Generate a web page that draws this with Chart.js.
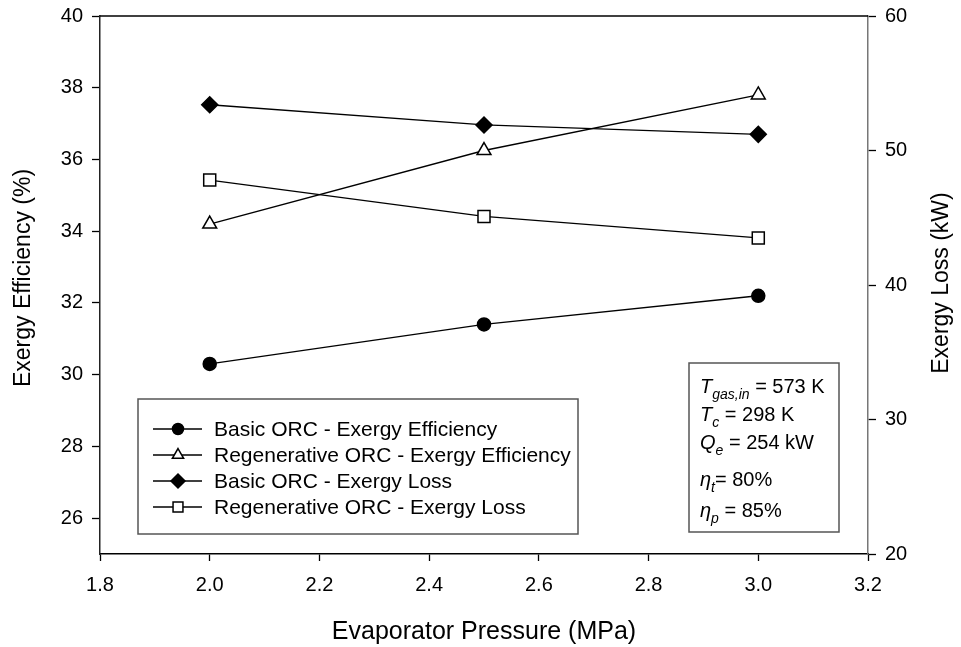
<!DOCTYPE html>
<html>
<head>
<meta charset="utf-8">
<script src="https://cdn.jsdelivr.net/npm/chart.js@4.4.1/dist/chart.umd.min.js"></script>
<style>
  html, body { margin: 0; padding: 0; background: #fff; }
  #wrap { width: 961px; height: 647px; }
</style>
</head>
<body>
<div id="wrap"><canvas id="c" width="961" height="647"></canvas></div>
<script>
// Evaporator pressure (MPa)
const pressure = [2.0, 2.5, 3.0];

// Exergy efficiency (%), left axis
const basicEfficiency = [30.3, 31.4, 32.2];
const regenEfficiency = [34.2, 36.25, 37.8];

// Exergy loss (kW), right axis
const basicLoss = [53.4, 51.9, 51.2];
const regenLoss = [47.8, 45.1, 43.5];

// Axis ticks
const xTicks = [1.8, 2.0, 2.2, 2.4, 2.6, 2.8, 3.0, 3.2];
const effTicks = [26, 28, 30, 32, 34, 36, 38, 40];
const lossTicks = [20, 30, 40, 50, 60];

const seriesNames = [
  'Basic ORC - Exergy Efficiency',
  'Regenerative ORC - Exergy Efficiency',
  'Basic ORC - Exergy Loss',
  'Regenerative ORC - Exergy Loss'
];

const FONT = 'Arial, "Liberation Sans", sans-serif';

function pts(ys) { return pressure.map((x, i) => ({ x: x, y: ys[i] })); }

function series(label, ys, axis, style, radius, fill) {
  return {
    label: label,
    data: pts(ys),
    yAxisID: axis,
    borderColor: '#000',
    borderWidth: 1.3,
    pointStyle: style,
    pointRadius: radius,
    pointHoverRadius: radius,
    pointBackgroundColor: fill,
    pointBorderColor: '#000',
    pointBorderWidth: 1.5,
    showLine: true,
    fill: false,
    tension: 0
  };
}

const datasets = [
  series(seriesNames[0], basicEfficiency, 'yEff', 'circle', 6.5, '#000'),
  series(seriesNames[1], regenEfficiency, 'yEff', 'triangle', 8, '#fff'),
  series(seriesNames[2], basicLoss, 'yLoss', 'rectRot', 8, '#000'),
  series(seriesNames[3], regenLoss, 'yLoss', 'rect', 8.5, '#fff')
];

function verticalTitle(ctx, text, x, y) {
  ctx.save();
  ctx.translate(x, y);
  ctx.rotate(-Math.PI / 2);
  ctx.fillStyle = '#000';
  ctx.font = '23px ' + FONT;
  ctx.textAlign = 'center';
  ctx.textBaseline = 'middle';
  ctx.fillText(text, 0, 0);
  ctx.restore();
}

// Frame line on top, y-axis titles, legend box and parameter box
const decorations = {
  id: 'decorations',
  afterDraw(chart) {
    const ctx = chart.ctx;
    const a = chart.chartArea;
    ctx.save();

    // top frame line
    ctx.strokeStyle = '#000';
    ctx.lineWidth = 1.5;
    ctx.beginPath();
    ctx.moveTo(a.left, a.top);
    ctx.lineTo(a.right, a.top);
    ctx.stroke();

    // y-axis titles, both reading bottom to top
    verticalTitle(ctx, 'Exergy Efficiency (%)', 24, 278);
    verticalTitle(ctx, 'Exergy Loss (kW)', 942, 283);

    // legend
    const lx = 138, ly = 399, lw = 440, lh = 135;
    ctx.fillStyle = '#fff';
    ctx.fillRect(lx, ly, lw, lh);
    ctx.strokeStyle = '#555';
    ctx.lineWidth = 1.5;
    ctx.strokeRect(lx, ly, lw, lh);
    const legendRadius = [5.5, 6.5, 7, 7];
    chart.data.datasets.forEach((ds, i) => {
      const y = 429 + i * 26;
      ctx.strokeStyle = '#000';
      ctx.lineWidth = 1.3;
      ctx.beginPath();
      ctx.moveTo(153, y);
      ctx.lineTo(202, y);
      ctx.stroke();
      ctx.fillStyle = ds.pointBackgroundColor;
      ctx.strokeStyle = '#000';
      ctx.lineWidth = 1.5;
      Chart.helpers.drawPoint(ctx, {
        pointStyle: ds.pointStyle, radius: legendRadius[i], rotation: 0, borderWidth: 1.5
      }, 178, y);
      ctx.fillStyle = '#000';
      ctx.font = '21px ' + FONT;
      ctx.textAlign = 'left';
      ctx.textBaseline = 'middle';
      ctx.fillText(ds.label, 214, y + 1);
    });

    // operating parameters
    const bx = 689, by = 363, bw = 150, bh = 169;
    ctx.fillStyle = '#fff';
    ctx.fillRect(bx, by, bw, bh);
    ctx.strokeStyle = '#555';
    ctx.lineWidth = 1.5;
    ctx.strokeRect(bx, by, bw, bh);

    ctx.fillStyle = '#000';
    ctx.textAlign = 'left';
    ctx.textBaseline = 'alphabetic';
    const rows = [
      { sym: 'T', sub: 'gas,in', rest: ' = 573 K', y: 393 },
      { sym: 'T', sub: 'c', rest: ' = 298 K', y: 421 },
      { sym: 'Q', sub: 'e', rest: ' = 254 kW', y: 449 },
      { sym: '\u03B7', sub: 't', rest: '= 80%', y: 486 },
      { sym: '\u03B7', sub: 'p', rest: ' = 85%', y: 517 }
    ];
    rows.forEach(r => {
      let x = 700;
      ctx.font = 'italic 20px ' + FONT;
      ctx.fillText(r.sym, x, r.y);
      x += ctx.measureText(r.sym).width;
      ctx.font = 'italic 14px ' + FONT;
      ctx.fillText(r.sub, x, r.y + 6);
      x += ctx.measureText(r.sub).width;
      ctx.font = '20px ' + FONT;
      ctx.fillText(r.rest, x, r.y);
    });

    ctx.restore();
  }
};

const tickFont = { family: FONT, size: 20 };

new Chart(document.getElementById('c'), {
  type: 'scatter',
  data: { datasets: datasets },
  options: {
    responsive: false,
    animation: false,
    devicePixelRatio: 1,
    layout: { padding: { top: 16, left: 0, right: 0, bottom: 0 } },
    plugins: { legend: { display: false }, tooltip: { enabled: false } },
    scales: {
      x: {
        type: 'linear',
        min: 1.8, max: 3.2,
        afterBuildTicks: s => { s.ticks = xTicks.map(v => ({ value: v })); },
        afterFit: s => { s.height = 93; s.paddingLeft = 0; s.paddingRight = 0; },
        grid: { drawOnChartArea: false, drawTicks: true, tickLength: 7, color: '#000', tickWidth: 1.3 },
        border: { display: true, color: '#000', width: 1.5 },
        ticks: { color: '#000', font: tickFont, padding: 12, maxRotation: 0,
                 callback: v => Number(v).toFixed(1) },
        title: { display: true, text: 'Evaporator Pressure (MPa)', color: '#000',
                 font: { family: FONT, size: 25, lineHeight: 1.2 }, padding: { top: 0, bottom: 0 } }
      },
      yEff: {
        type: 'linear', position: 'left',
        min: 25, max: 40,
        afterBuildTicks: s => { s.ticks = effTicks.map(v => ({ value: v })); },
        afterFit: s => { s.width = 100; s.paddingTop = 0; s.paddingBottom = 0; },
        grid: { drawOnChartArea: false, drawTicks: true, tickLength: 8, color: '#000', tickWidth: 1.3 },
        border: { display: true, color: '#222', width: 1.5 },
        ticks: { color: '#000', font: tickFont, padding: 9 }
      },
      yLoss: {
        type: 'linear', position: 'right',
        min: 20, max: 60,
        afterBuildTicks: s => { s.ticks = lossTicks.map(v => ({ value: v })); },
        afterFit: s => { s.width = 93; s.paddingTop = 0; s.paddingBottom = 0; },
        grid: { drawOnChartArea: false, drawTicks: true, tickLength: 8, color: '#000', tickWidth: 1.3 },
        border: { display: true, color: '#777', width: 1.5 },
        ticks: { color: '#000', font: tickFont, padding: 9 }
      }
    }
  },
  plugins: [decorations]
});
</script>
</body>
</html>
